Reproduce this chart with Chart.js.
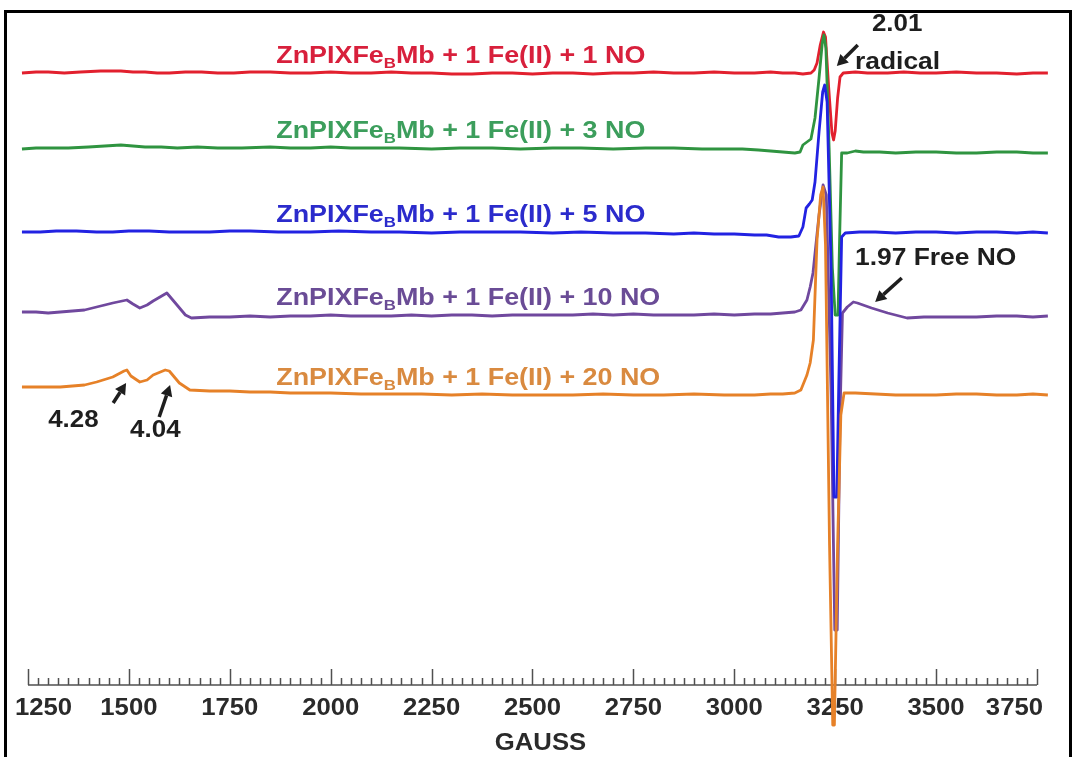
<!DOCTYPE html>
<html>
<head>
<title>EPR spectra - ZnPIXFeBMb titration with NO</title>
<script src="https://cdn.jsdelivr.net/npm/chart.js@4.4.1/dist/chart.umd.min.js"></script>
<style>
    html, body { margin: 0; padding: 0; background: #fff; }
    #wrap { width: 1075px; height: 757px; }
</style>
</head>
<body>
<div id="wrap"><canvas id="epr" width="1075" height="757"></canvas></div>
<script>
// field (gauss), derivative signal relative to the trace's own baseline
const spec1NO = [[1235,0],[1270,1],[1300,1],[1340,0],[1380,1],[1430,2],[1480,2],[1510,1],[1540,1],[1570,0],[1600,0],[1640,1],[1680,1],[1720,0],[1760,0],[1800,1],[1850,1],[1900,0],[1950,0],[2000,1],[2050,0],[2100,0],[2150,1],[2200,0],[2250,0],[2300,-1],[2350,-1],[2400,0],[2450,0],[2500,-1],[2550,0],[2600,0],[2650,-1],[2700,0],[2750,0],[2800,1],[2850,0],[2900,0],[2950,1],[3000,0],[3050,0],[3090,1],[3120,0],[3150,0],[3170,-1],[3190,0],[3198,3],[3205,10],[3213,28],[3221,41],[3226,36],[3234,-15],[3242,-60],[3246,-67],[3250,-58],[3256,-25],[3262,-4],[3270,0],[3300,1],[3330,0],[3380,0],[3420,1],[3460,0],[3500,0],[3550,1],[3600,0],[3650,0],[3700,-1],[3740,0],[3777,0]];
const spec3NO = [[1235,-1],[1270,0],[1300,0],[1350,0],[1400,1],[1440,2],[1480,3],[1510,2],[1540,1],[1580,1],[1620,0],[1670,1],[1720,0],[1780,0],[1850,1],[1900,0],[1950,0],[2000,1],[2050,0],[2100,0],[2170,0],[2250,-1],[2320,0],[2400,0],[2470,-1],[2550,0],[2620,0],[2700,-1],[2780,0],[2850,0],[2920,-1],[2980,-1],[3020,-1],[3060,-2],[3090,-3],[3120,-4],[3150,-5],[3163,-4],[3170,3],[3180,6],[3190,9],[3200,30],[3210,70],[3218,105],[3222,113],[3227,100],[3235,0],[3243,-120],[3250,-167],[3257,-167],[3261,-90],[3266,-5],[3280,-5],[3300,-3],[3320,-4],[3360,-4],[3400,-5],[3450,-4],[3500,-4],[3550,-5],[3600,-5],[3650,-4],[3700,-4],[3740,-5],[3777,-5]];
const spec5NO = [[1235,0],[1280,0],[1320,1],[1370,1],[1420,0],[1460,0],[1500,1],[1550,1],[1600,0],[1650,0],[1700,0],[1750,1],[1800,1],[1870,0],[1950,0],[2020,1],[2100,0],[2170,0],[2250,-1],[2320,0],[2400,0],[2470,0],[2550,-1],[2620,0],[2700,-1],[2780,-1],[2850,-2],[2900,-1],[2950,-2],[3000,-2],[3050,-3],[3080,-3],[3110,-5],[3140,-5],[3160,-4],[3170,5],[3178,24],[3186,28],[3193,32],[3200,50],[3210,100],[3219,140],[3224,147],[3230,130],[3240,-40],[3247,-265],[3254,-265],[3259,-150],[3266,-5],[3275,-1],[3310,0],[3350,0],[3400,-1],[3450,0],[3500,0],[3550,-1],[3600,0],[3650,0],[3700,-1],[3740,0],[3777,-1]];
const spec10NO = [[1235,3],[1270,3],[1300,2],[1330,3],[1360,4],[1390,5],[1420,8],[1460,12],[1495,15],[1510,11],[1527,7],[1545,10],[1560,14],[1594,22],[1615,12],[1640,0],[1655,-3],[1700,-2],[1750,-2],[1800,-1],[1850,-2],[1900,-1],[1950,-1],[2000,0],[2050,-1],[2100,-1],[2150,-1],[2200,0],[2250,-1],[2300,0],[2350,0],[2400,-1],[2450,0],[2500,0],[2550,0],[2600,0],[2650,1],[2700,0],[2750,1],[2800,0],[2850,0],[2900,0],[2950,1],[3000,0],[3050,1],[3090,1],[3120,2],[3150,3],[3165,5],[3180,15],[3188,28],[3195,42],[3210,100],[3220,130],[3228,120],[3240,-80],[3249,-315],[3255,-315],[3262,-100],[3268,2],[3280,8],[3295,13],[3305,12],[3340,7],[3380,2],[3428,-3],[3470,-2],[3500,-2],[3550,-2],[3600,-2],[3650,-1],[3700,-1],[3740,-2],[3777,-1]];
const spec20NO = [[1235,8],[1270,8],[1300,8],[1330,8],[1360,9],[1390,10],[1420,13],[1460,18],[1488,24],[1495,25],[1505,19],[1527,13],[1545,15],[1560,20],[1590,25],[1600,24],[1625,12],[1651,5],[1700,4],[1750,4],[1800,3],[1850,3],[1900,2],[1950,2],[2000,2],[2075,1],[2150,1],[2225,1],[2300,0],[2375,1],[2450,0],[2525,0],[2600,0],[2675,1],[2750,0],[2825,0],[2900,1],[2975,0],[3050,0],[3090,1],[3120,1],[3150,2],[3165,5],[3180,20],[3188,32],[3196,55],[3205,155],[3214,200],[3220,208],[3226,150],[3236,-150],[3244,-330],[3248,-330],[3256,-150],[3264,-20],[3272,2],[3300,2],[3350,1],[3400,0],[3450,0],[3500,0],[3550,1],[3600,1],[3650,0],[3700,0],[3740,1],[3777,0]];

const spectra = [spec1NO, spec3NO, spec5NO, spec10NO, spec20NO];
const noEquiv = ['1', '3', '5', '10', '20'];
const stackOffsets = [684, 609, 525, 442, 362];
const fieldTicks = [1250, 1500, 1750, 2000, 2250, 2500, 2750, 3000, 3250, 3500, 3750];
const minorStep = 25;

// styling
const lineColors = ['#e2202e', '#2f9440', '#2222e2', '#70489e', '#e68128'];
const textColors = ['#d8203c', '#3c9e5c', '#2b2bcc', '#6a4c96', '#d98a40'];
const drawOrder = [5, 3, 2, 4, 1];   // lower = drawn on top
const AXIS_LEVEL = 72;
const FONT = 'bold 24px "Liberation Sans", Arial, sans-serif';
const SUB_FONT = 'bold 15px "Liberation Sans", Arial, sans-serif';

function wideText(ctx, parts, x, y, sx) {
    ctx.save();
    ctx.translate(x, y);
    ctx.scale(sx, 1);
    let cx = 0;
    for (const p of parts) {
        ctx.font = p.sub ? SUB_FONT : FONT;
        ctx.fillText(p.t, cx, p.sub ? 5 : 0);
        cx += ctx.measureText(p.t).width;
    }
    ctx.restore();
}

function arrow(ctx, x1, y1, x2, y2) {
    const a = Math.atan2(y2 - y1, x2 - x1);
    const hl = 11, hw = 6;
    const bx = x2 - hl * Math.cos(a), by = y2 - hl * Math.sin(a);
    ctx.beginPath();
    ctx.moveTo(x1, y1);
    ctx.lineTo(bx, by);
    ctx.stroke();
    ctx.beginPath();
    ctx.moveTo(x2, y2);
    ctx.lineTo(bx + hw * Math.sin(a), by - hw * Math.cos(a));
    ctx.lineTo(bx - hw * Math.sin(a), by + hw * Math.cos(a));
    ctx.closePath();
    ctx.fill();
}

const eprDecor = {
    id: 'eprDecor',
    beforeDatasetsDraw(chart) {
        const {ctx, scales: {x, y}} = chart;
        const ay = y.getPixelForValue(AXIS_LEVEL);
        const x0 = x.getPixelForValue(fieldTicks[0]);
        const x1 = x.getPixelForValue(fieldTicks[fieldTicks.length - 1]);
        ctx.save();

        // field axis with ticks pointing up
        ctx.strokeStyle = '#505050';
        ctx.lineWidth = 1.5;
        ctx.beginPath();
        ctx.moveTo(x0, ay);
        ctx.lineTo(x1, ay);
        for (let g = fieldTicks[0]; g <= fieldTicks[fieldTicks.length - 1]; g += minorStep) {
            const px = Math.round(x.getPixelForValue(g)) + 0.5;
            const len = fieldTicks.includes(g) ? 16 : 7;
            ctx.moveTo(px, ay);
            ctx.lineTo(px, ay - len);
        }
        ctx.stroke();

        ctx.fillStyle = '#2a2a2a';
        ctx.font = FONT;
        ctx.textBaseline = 'alphabetic';
        for (const g of fieldTicks) {
            const s = String(g);
            const w = ctx.measureText(s).width * 1.07;
            let cx = x.getPixelForValue(g);
            cx = Math.min(Math.max(cx, 15 + w / 2), 1043 - w / 2);
            wideText(ctx, [{t: s}], cx - w / 2, ay + 30, 1.07);
        }
        const tw = ctx.measureText('GAUSS').width * 1.07;
        wideText(ctx, [{t: 'GAUSS'}], (x0 + x1) / 2 - tw / 2 + 8, ay + 65, 1.07);

        // trace labels
        noEquiv.forEach((n, i) => {
            ctx.fillStyle = textColors[i];
            const parts = [{t: 'ZnPIXFe'}, {t: 'B', sub: true}, {t: 'Mb + 1 Fe(II) + ' + n + ' NO'}];
            wideText(ctx, parts, x.getPixelForValue(1865), y.getPixelForValue(stackOffsets[i] + 10), 1.12);
        });

        // g-value notes
        ctx.fillStyle = '#1e1e1e';
        ctx.strokeStyle = '#1e1e1e';
        ctx.lineWidth = 3.5;
        const P = (g, v) => [x.getPixelForValue(g), y.getPixelForValue(v)];
        wideText(ctx, [{t: '2.01'}], ...P(3341, 726), 1.08);
        wideText(ctx, [{t: 'radical'}], ...P(3299, 688), 1.1);
        arrow(ctx, ...P(3306, 712), ...P(3254, 691));
        wideText(ctx, [{t: '1.97 Free NO'}], ...P(3299, 492), 1.1);
        arrow(ctx, ...P(3415, 479), ...P(3349, 455));
        wideText(ctx, [{t: '4.28'}], ...P(1300, 330), 1.08);
        arrow(ctx, ...P(1461, 354), ...P(1493, 374));
        wideText(ctx, [{t: '4.04'}], ...P(1503, 320), 1.08);
        arrow(ctx, ...P(1575, 340), ...P(1602, 372));
        ctx.restore();
    },
    afterDraw(chart) {
        const ctx = chart.ctx;
        ctx.save();
        ctx.strokeStyle = '#000';
        ctx.lineWidth = 3;
        ctx.strokeRect(5.5, 11.5, 1065, 760);
        ctx.restore();
    }
};

new Chart(document.getElementById('epr').getContext('2d'), {
    type: 'line',
    data: {
        datasets: spectra.map((pts, i) => ({
            label: noEquiv[i] + ' NO',
            data: pts.map(([g, s]) => ({x: g, y: s + stackOffsets[i]})),
            borderColor: lineColors[i],
            borderWidth: 2.8,
            borderJoinStyle: 'round',
            pointRadius: 0,
            tension: 0,
            order: drawOrder[i]
        }))
    },
    options: {
        responsive: false,
        maintainAspectRatio: false,
        animation: false,
        layout: { padding: 0 },
        plugins: {
            legend: { display: false },
            tooltip: { enabled: false }
        },
        scales: {
            x: { type: 'linear', min: 1180.6, max: 3844.2, display: false },
            y: { min: 0, max: 757, display: false }
        }
    },
    plugins: [eprDecor]
});
</script>
</body>
</html>
